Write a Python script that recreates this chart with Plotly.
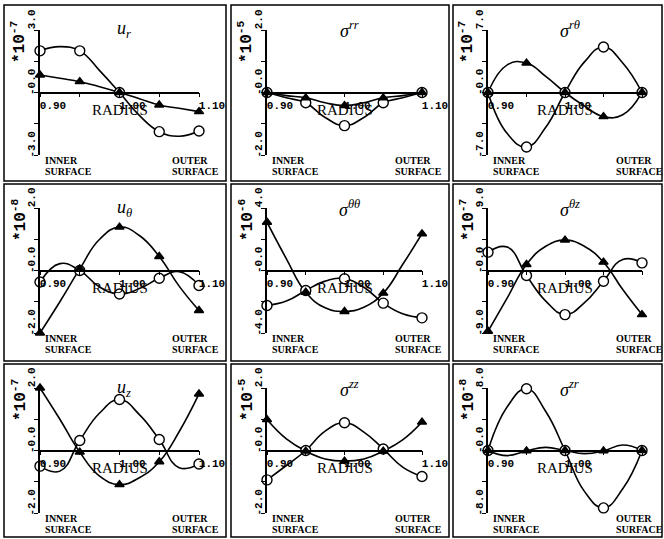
import plotly.graph_objects as go

W, H = 664, 539

# radial stations (curve samples) and the five marked stations
radius = [0.900, 0.925, 0.950, 0.975, 1.000, 1.025, 1.050, 1.075, 1.100]

# panel titles, scale exponents and symmetric y limits
titles = ["<i>u<sub>r</sub></i>", "<i>σ<sup>rr</sup></i>", "<i>σ<sup>rθ</sup></i>",
          "<i>u<sub>θ</sub></i>", "<i>σ<sup>θθ</sup></i>", "<i>σ<sup>θz</sup></i>",
          "<i>u<sub>z</sub></i>", "<i>σ<sup>zz</sup></i>", "<i>σ<sup>zr</sup></i>"]
exponents = ["-7", "-5", "-7", "-8", "-6", "-7", "-7", "-5", "-8"]
ylimits = [3.0, 2.0, 7.0, 2.0, 4.0, 9.0, 2.0, 2.0, 8.0]

# series marked with open circles
circ_ur = [2.0, 2.2, 2.0, 1.05, 0.0, -1.1, -1.88, -2.1, -1.85]
circ_srr = [0.0, -0.17, -0.33, -0.8, -1.06, -0.8, -0.33, -0.17, 0.0]
circ_srt = [0.0, -4.6, -6.1, -3.9, 0.0, 3.4, 5.1, 3.3, 0.0]
circ_ut = [-0.37, 0.22, 0.0, -0.53, -0.75, -0.58, -0.25, -0.04, -0.48]
circ_stt = [-2.24, -1.96, -1.28, -0.68, -0.53, -1.07, -2.09, -2.77, -3.03]
circ_stz = [2.64, 3.37, -0.72, -4.4, -6.35, -4.66, -1.54, 1.6, 1.1]
circ_uz = [-0.5, -0.66, 0.32, 1.2, 1.63, 1.15, 0.35, -0.55, -0.43]
circ_szz = [-0.94, -0.48, 0.0, 0.62, 0.89, 0.59, 0.05, -0.53, -0.83]
circ_szr = [0.0, 5.6, 7.9, 5.0, 0.0, -5.2, -7.35, -4.9, 0.0]

# series marked with triangles
tri_ur = [0.84, 0.68, 0.52, 0.28, 0.0, -0.3, -0.6, -0.76, -0.92]
tri_srr = [0.0, -0.1, -0.17, -0.33, -0.42, -0.33, -0.17, -0.1, 0.0]
tri_srt = [0.0, 3.1, 3.3, 1.8, 0.0, -1.5, -2.7, -2.5, 0.0]
tri_ut = [-2.0, -1.0, 0.05, 1.0, 1.39, 1.12, 0.45, -0.5, -1.28]
tri_stt = [3.09, 0.75, -1.39, -2.39, -2.62, -2.35, -1.45, 0.38, 2.35]
tri_stz = [-8.75, -3.94, 0.87, 3.5, 4.38, 3.5, 1.2, -2.74, -6.35]
tri_uz = [2.0, 1.0, -0.05, -0.82, -1.09, -0.87, -0.36, 0.6, 1.81]
tri_szz = [0.99, 0.37, -0.02, -0.27, -0.34, -0.27, -0.02, 0.34, 0.91]
tri_szr = [0.0, -0.65, -0.05, 0.4, 0.0, -0.4, -0.05, 0.7, 0.0]

circles = [circ_ur, circ_srr, circ_srt, circ_ut, circ_stt, circ_stz, circ_uz, circ_szz, circ_szr]
triangles = [tri_ur, tri_srr, tri_srt, tri_ut, tri_stt, tri_stz, tri_uz, tri_szz, tri_szr]

x_ticks = [0.90, 0.95, 1.00, 1.05, 1.10]
x_ticktext = ["0.90", "", "1.00", "", "1.10"]

# plot-area pixel extents per column / row
col_px = [(40, 199), (267, 422), (488, 642)]
row_px = [(30, 155), (208, 333), (388, 513)]
# frame boxes per column / row
box_col = [(4, 226), (231, 449), (453, 662)]
box_row = [(5, 181), (184, 361), (364, 537)]

mono = "Liberation Mono"
serif = "Liberation Serif"

fig = go.Figure()
layout = dict(
    width=W, height=H, margin=dict(l=0, r=0, t=0, b=0, autoexpand=False),
    paper_bgcolor="white", plot_bgcolor="white", showlegend=False,
)
annotations = []
shapes = []


def note(text, xref, yref, x, y, size, family=serif, xshift=0, yshift=0,
         xanchor="center", yanchor="middle", angle=0, bold=False):
    return dict(text=text, xref=xref, yref=yref, x=x, y=y, xshift=xshift,
                yshift=yshift, xanchor=xanchor, yanchor=yanchor,
                textangle=angle, showarrow=False,
                font=dict(family=family, size=size, color="black",
                          weight="bold" if bold else "normal"))


for k in range(9):
    r, c = divmod(k, 3)
    n = k + 1
    xs = "" if n == 1 else str(n)
    x0, x1 = col_px[c]
    y0, y1 = row_px[r]
    xdom = [x0 / W, x1 / W]
    ydom = [1 - y1 / H, 1 - y0 / H]
    ym = ylimits[k]

    layout["xaxis" + xs] = dict(
        domain=xdom, range=[0.90, 1.10], anchor="free",
        position=(ydom[0] + ydom[1]) / 2, automargin=False,
        showline=True, linecolor="black", linewidth=1.6,
        ticks="outside", ticklen=4, tickwidth=1.4, tickcolor="black",
        tickvals=x_ticks, ticktext=x_ticktext, ticklabelshift=13,
        ticklabelstandoff=-2,
        tickfont=dict(family=mono, size=11, color="black", weight="bold"),
        showgrid=False, zeroline=False, fixedrange=True,
    )
    layout["yaxis" + xs] = dict(
        domain=ydom, range=[-ym, ym], anchor="x" + xs, automargin=False,
        showline=True, linecolor="black", linewidth=1.6,
        ticks="outside", ticklen=4, tickwidth=1.4, tickcolor="black",
        tickvals=[-ym, -ym / 2, 0, ym / 2, ym],
        ticktext=["-%.1f" % ym, "", "-0.0", "", "%.1f" % ym],
        tickangle=-90, ticklabelshift=-9, ticklabelstandoff=-5,
        tickfont=dict(family=mono, size=11, color="black", weight="bold"),
        showgrid=False, zeroline=False, fixedrange=True,
    )

    xr, yr = "x" + xs, "y" + xs
    # curves first, then circle markers, then triangle markers on top
    for vals in (circles[k], triangles[k]):
        fig.add_trace(go.Scatter(
            x=radius, y=vals, mode="lines", xaxis=xr, yaxis=yr,
            line=dict(color="black", width=1.6, shape="spline", smoothing=1.3),
            hoverinfo="skip", cliponaxis=False,
        ))
    for vals, sym, size, fill in ((circles[k], "circle", 10, "white"),
                                  (triangles[k], "triangle-up", 8, "black")):
        fig.add_trace(go.Scatter(
            x=radius[::2], y=vals[::2], mode="markers", xaxis=xr, yaxis=yr,
            marker=dict(symbol=sym, size=size, color=fill,
                        line=dict(color="black", width=1.4)),
            hoverinfo="skip", cliponaxis=False,
        ))

    dx, dy = xr + " domain", yr + " domain"
    annotations += [
        note(titles[k], dx, dy, 0.53, 1.0, 18),
        note("*10<sup>%s</sup>" % exponents[k], dx, dy, 0, 1, 16, family=mono,
             xshift=-21, yshift=-12, angle=-90, bold=True),
        note("RADIUS", dx, dy, 0.5, 0.5, 15, yshift=-17),
        note("INNER", dx, dy, 0.02, 0, 10, yshift=-5, xanchor="left", bold=True),
        note("SURFACE", dx, dy, 0.02, 0, 10, yshift=-16.5, xanchor="left", bold=True),
        note("OUTER", dx, dy, 0.815, 0, 10, yshift=-5, xanchor="left", bold=True),
        note("SURFACE", dx, dy, 0.815, 0, 10, yshift=-16.5, xanchor="left", bold=True),
    ]

    bx0, bx1 = box_col[c]
    by0, by1 = box_row[r]
    shapes.append(dict(type="rect", xref="paper", yref="paper",
                       x0=bx0 / W, x1=bx1 / W, y0=1 - by1 / H, y1=1 - by0 / H,
                       line=dict(color="black", width=1.5)))

layout["annotations"] = annotations
layout["shapes"] = shapes
fig.update_layout(**layout)
fig.write_html("out.html")
